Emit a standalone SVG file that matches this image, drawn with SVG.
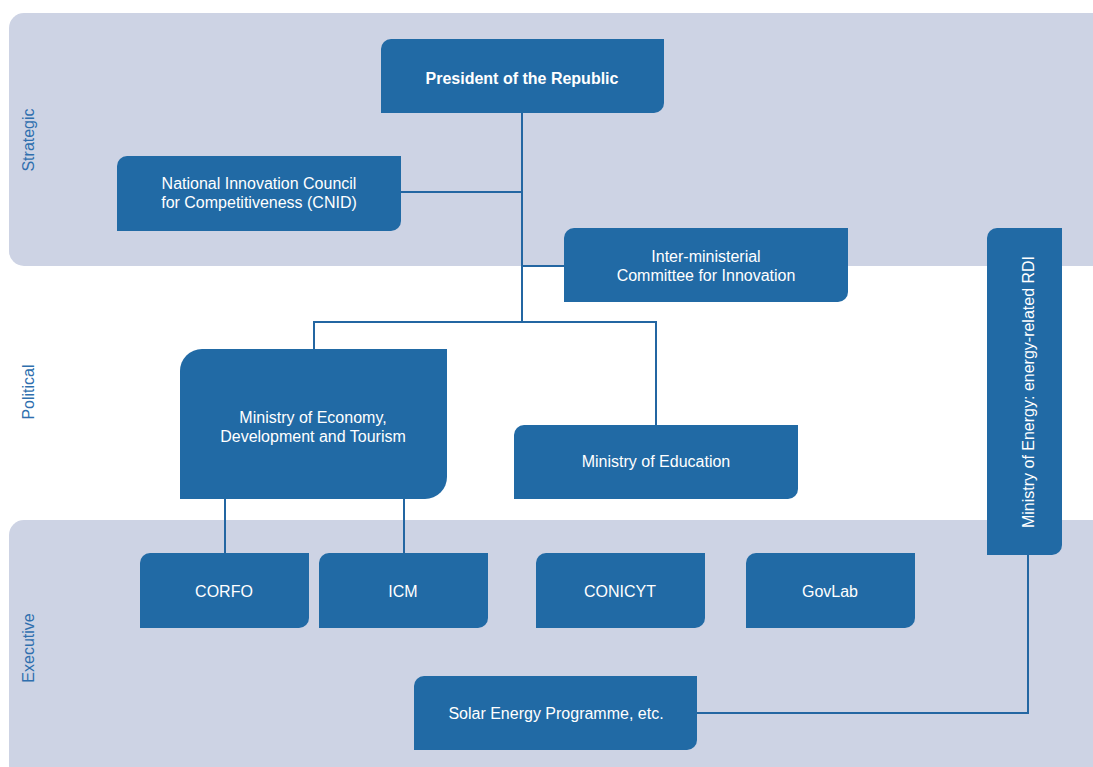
<svg xmlns="http://www.w3.org/2000/svg" width="1093" height="767" viewBox="0 0 1093 767">
<style>
.band{fill:#cdd3e4}
.box{fill:#216aa5}
.t{font-family:"Liberation Sans",Arial,sans-serif;font-size:16px;fill:#ffffff;text-anchor:middle}
.b{font-weight:bold}
.lbl{font-family:"Liberation Sans",Arial,sans-serif;font-size:16px;fill:#2f6fae;text-anchor:middle}
.c{fill:none;stroke:#2366a2;stroke-width:2}
</style>
<g id="bands">
<rect class="band" x="9" y="13" width="1100" height="253" rx="15"/>
<rect class="band" x="9" y="520" width="1100" height="260" rx="15"/>
<text class="lbl" transform="translate(34,140) rotate(-90)">Strategic</text>
<text class="lbl" transform="translate(34,392) rotate(-90)">Political</text>
<text class="lbl" transform="translate(34,648) rotate(-90)">Executive</text>
</g>
<g id="connectors">
<path class="c" d="M522,113 V322"/>
<path class="c" d="M401,192 H522"/>
<path class="c" d="M522,266 H564"/>
<path class="c" d="M314,349 V322 H656 V425"/>
<path class="c" d="M225,499 V553"/>
<path class="c" d="M404,499 V553"/>
<path class="c" d="M1028,555 V713 H697"/>
</g>
<g id="president">
<path class="box" d="M391,39 H664 V103 a10,10 0 0 1 -10,10 H381 V49 a10,10 0 0 1 10,-10 Z"/>
<text class="t b" x="522" y="84">President of the Republic</text>
</g>
<g id="cnid">
<path class="box" d="M127,156 H401 V221 a10,10 0 0 1 -10,10 H117 V166 a10,10 0 0 1 10,-10 Z"/>
<text class="t" x="259" y="189">National Innovation Council</text>
<text class="t" x="259" y="208">for Competitiveness (CNID)</text>
</g>
<g id="interministerial">
<path class="box" d="M574,228 H848 V292 a10,10 0 0 1 -10,10 H564 V238 a10,10 0 0 1 10,-10 Z"/>
<text class="t" x="706" y="262">Inter-ministerial</text>
<text class="t" x="706" y="281">Committee for Innovation</text>
</g>
<g id="economy">
<path class="box" d="M202,349 H447 V477 a22,22 0 0 1 -22,22 H180 V371 a22,22 0 0 1 22,-22 Z"/>
<text class="t" x="313" y="423">Ministry of Economy,</text>
<text class="t" x="313" y="442">Development and Tourism</text>
</g>
<g id="education">
<path class="box" d="M524,425 H798 V489 a10,10 0 0 1 -10,10 H514 V435 a10,10 0 0 1 10,-10 Z"/>
<text class="t" x="656" y="467">Ministry of Education</text>
</g>
<g id="energy">
<path class="box" d="M997,228 H1062 V545 a10,10 0 0 1 -10,10 H987 V238 a10,10 0 0 1 10,-10 Z"/>
<text class="t" transform="translate(1034,392) rotate(-90)">Ministry of Energy: energy-related RDI</text>
</g>
<g id="corfo">
<path class="box" d="M150,553 H309 V618 a10,10 0 0 1 -10,10 H140 V563 a10,10 0 0 1 10,-10 Z"/>
<text class="t" x="224" y="597">CORFO</text>
</g>
<g id="icm">
<path class="box" d="M329,553 H488 V618 a10,10 0 0 1 -10,10 H319 V563 a10,10 0 0 1 10,-10 Z"/>
<text class="t" x="403" y="597">ICM</text>
</g>
<g id="conicyt">
<path class="box" d="M546,553 H705 V618 a10,10 0 0 1 -10,10 H536 V563 a10,10 0 0 1 10,-10 Z"/>
<text class="t" x="620" y="597">CONICYT</text>
</g>
<g id="govlab">
<path class="box" d="M756,553 H915 V618 a10,10 0 0 1 -10,10 H746 V563 a10,10 0 0 1 10,-10 Z"/>
<text class="t" x="830" y="597">GovLab</text>
</g>
<g id="solar">
<path class="box" d="M424,676 H697 V740 a10,10 0 0 1 -10,10 H414 V686 a10,10 0 0 1 10,-10 Z"/>
<text class="t" x="556" y="719">Solar Energy Programme, etc.</text>
</g>
</svg>
